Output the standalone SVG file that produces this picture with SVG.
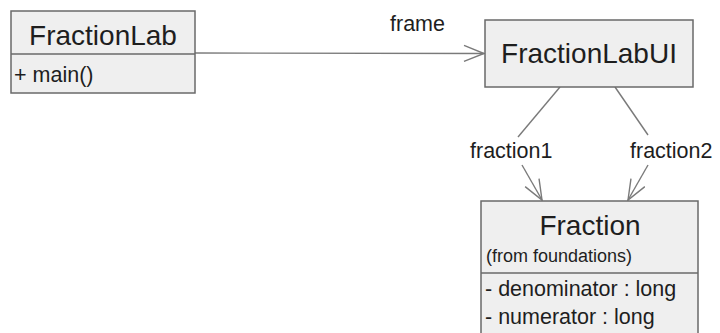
<svg xmlns="http://www.w3.org/2000/svg" width="720" height="333" viewBox="0 0 720 333">
<style>
.box{fill:#efefef;stroke:#6a6a6a;stroke-width:1.5}
.div{stroke:#6a6a6a;stroke-width:1.5}
.name{font-family:"Liberation Sans",Arial,sans-serif;font-size:28px;fill:#1e1e1e;text-anchor:middle}
.attr{font-family:"Liberation Sans",Arial,sans-serif;font-size:21.5px;fill:#1e1e1e}
.from{font-family:"Liberation Sans",Arial,sans-serif;font-size:18px;fill:#1e1e1e}
.lbl{font-family:"Liberation Sans",Arial,sans-serif;font-size:21.5px;fill:#1e1e1e}
.conn{fill:none;stroke:#7a7a7a;stroke-width:1.4}
</style>
<defs>
<marker id="open" markerUnits="userSpaceOnUse" markerWidth="24" markerHeight="20" refX="21" refY="9" orient="auto">
<path d="M1,1 L21,9 L1,17" fill="none" stroke="#7a7a7a" stroke-width="1.4"/>
</marker>
</defs>
<rect width="720" height="333" fill="#ffffff"/>
<g id="connectors">
<line class="conn" x1="195" y1="53" x2="484" y2="53.5" marker-end="url(#open)"/>
<text class="lbl" x="390" y="31">frame</text>
<line class="conn" x1="560" y1="87" x2="518" y2="137"/>
<line class="conn" x1="522" y1="165" x2="542" y2="200" marker-end="url(#open)"/>
<text class="lbl" x="470" y="158">fraction1</text>
<line class="conn" x1="615" y1="87" x2="648" y2="135"/>
<line class="conn" x1="648" y1="165" x2="628" y2="200" marker-end="url(#open)"/>
<text class="lbl" x="630" y="158">fraction2</text>
</g>
<g id="FractionLab">
<rect class="box" x="11" y="11" width="184" height="82"/>
<line class="div" x1="11" y1="54" x2="195" y2="54"/>
<text class="name" x="103" y="45">FractionLab</text>
<text class="attr" x="14" y="82">+ main()</text>
</g>
<g id="FractionLabUI">
<rect class="box" x="485" y="20" width="208" height="67"/>
<text class="name" x="589" y="63">FractionLabUI</text>
</g>
<g id="Fraction">
<rect class="box" x="481" y="201" width="217" height="140"/>
<line class="div" x1="481" y1="273" x2="698" y2="273"/>
<text class="name" x="590" y="235">Fraction</text>
<text class="from" x="486" y="262">(from foundations)</text>
<text class="attr" x="485" y="296">- denominator : long</text>
<text class="attr" x="485" y="324">- numerator : long</text>
</g>
</svg>
